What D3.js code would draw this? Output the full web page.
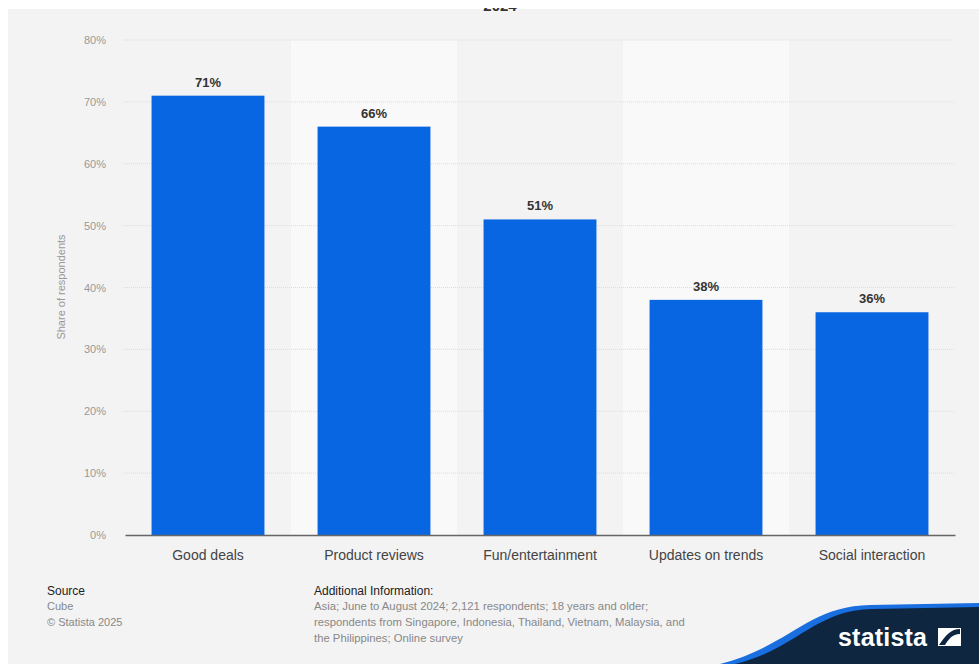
<!DOCTYPE html>
<html><head><meta charset="utf-8">
<script src="https://cdn.jsdelivr.net/npm/d3@7"></script>
<style>body{margin:0;background:#fff;font-family:"Liberation Sans",Arial,sans-serif}</style>
</head><body>
<svg id="c" width="979" height="664"></svg>
<script>
const categories = ["Good deals","Product reviews","Fun/entertainment","Updates on trends","Social interaction"];
const values = [71,66,51,38,36];
const yTicks = [0,10,20,30,40,50,60,70,80];
const sourceLines = ["Cube","© Statista 2025"];
const infoLines = ["Asia; June to August 2024; 2,121 respondents; 18 years and older;",
  "respondents from Singapore, Indonesia, Thailand, Vietnam, Malaysia, and",
  "the Philippines; Online survey"];

const svg = d3.select("#c");
svg.append("rect").attr("x",8).attr("y",9).attr("width",971).attr("height",655).attr("fill","#f3f3f3");

// clipped title remnant
svg.append("text").attr("x",500).attr("y",11).attr("text-anchor","middle")
  .attr("font-size",15).attr("font-weight","bold").attr("fill","#333").text("2024");
svg.append("rect").attr("x",0).attr("y",0).attr("width",979).attr("height",8).attr("fill","#fff");

const x = d3.scaleBand().domain(categories).range([125,955]).paddingInner(0.32).paddingOuter(0.16);
const band = d3.scaleBand().domain(categories).range([125,955]);
const y = d3.scaleLinear().domain([0,80]).range([535,40]);

// alternating bands
svg.selectAll("rect.band").data(categories.filter((d,i)=>i%2===1)).enter().append("rect")
  .attr("x",d=>band(d)).attr("y",y(80)).attr("width",band.bandwidth()).attr("height",y(0)-y(80))
  .attr("fill","#f9f9f9");

// grid
svg.selectAll("line.grid").data(yTicks.slice(1)).enter().append("line")
  .attr("x1",123).attr("x2",955).attr("y1",d=>y(d)).attr("y2",d=>y(d))
  .attr("stroke","#dcdcdc").attr("stroke-dasharray","1,1").attr("stroke-width",1);

// y axis labels
const yAxis = d3.axisLeft(y).tickValues(yTicks).tickFormat(d=>d+"%").tickSize(0).tickPadding(0);
const gy = svg.append("g").attr("transform","translate(106,0)").call(yAxis);
gy.select(".domain").remove();
gy.selectAll("text").attr("font-size",11).attr("fill","#999").attr("font-family","Liberation Sans, Arial, sans-serif");

svg.append("text").attr("transform","translate(65,287) rotate(-90)").attr("text-anchor","middle")
  .attr("font-size",11).attr("fill","#999").text("Share of respondents");

// bars
svg.selectAll("rect.bar").data(values).enter().append("rect")
  .attr("x",(d,i)=>x(categories[i])).attr("y",d=>y(d))
  .attr("width",x.bandwidth()).attr("height",d=>y(0)-y(d)).attr("fill","#0866e2");

svg.selectAll("text.val").data(values).enter().append("text")
  .attr("x",(d,i)=>x(categories[i])+x.bandwidth()/2).attr("y",d=>y(d)-9)
  .attr("text-anchor","middle").attr("font-size",13).attr("font-weight","bold").attr("fill","#333")
  .text(d=>d+"%");

// x axis
const xAxis = d3.axisBottom(band).tickSize(0).tickPadding(15);
const gx = svg.append("g").attr("transform","translate(0,535)").call(xAxis);
gx.select(".domain").attr("stroke","#666").attr("stroke-width",1.5);
gx.selectAll("text").attr("font-size",14).attr("fill","#444").attr("font-family","Liberation Sans, Arial, sans-serif");

// footer
svg.append("text").attr("x",47).attr("y",595).attr("font-size",12).attr("fill","#222").text("Source");
svg.selectAll("text.src").data(sourceLines).enter().append("text")
  .attr("x",47).attr("y",(d,i)=>610+i*16).attr("font-size",11).attr("fill","#888").text(d=>d);
svg.append("text").attr("x",314).attr("y",595).attr("font-size",12).attr("fill","#222").text("Additional Information:");
svg.selectAll("text.inf").data(infoLines).enter().append("text")
  .attr("x",314).attr("y",(d,i)=>610+i*16).attr("font-size",11.3).attr("fill","#888").text(d=>d);

// statista logo
svg.append("path").attr("d","M720,664 C790,646 808,606 870,605 L979,603 L979,664 Z").attr("fill","#1a6fe0");
svg.append("path").attr("d","M735,664 C795,650 815,610 872,609 L979,607 L979,664 Z").attr("fill","#0f2640");
svg.append("text").attr("x",838).attr("y",646).attr("font-size",25).attr("font-weight","bold")
  .attr("fill","#fff").attr("textLength",89).attr("font-family","Liberation Sans Narrow, Liberation Sans, Arial, sans-serif").text("statista");
svg.append("rect").attr("x",938).attr("y",628).attr("width",23).attr("height",18).attr("fill","#fff");
svg.append("path").attr("d","M939,645 L945,645 C949,639 952,634 960,634 L960,629 C951,629 946,635 939,645 Z").attr("fill","#0f2640");
</script>
</body></html>
